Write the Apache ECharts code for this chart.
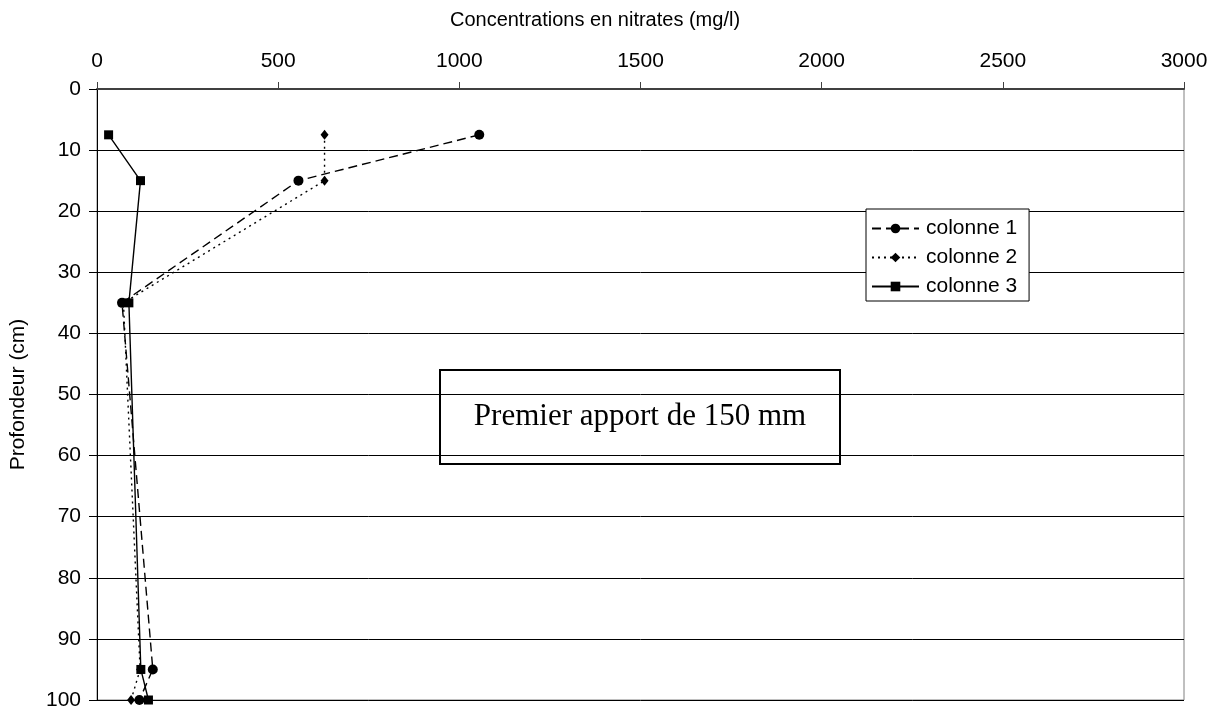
<!DOCTYPE html>
<html>
<head>
<meta charset="utf-8">
<script src="https://cdn.jsdelivr.net/npm/echarts@6/dist/echarts.min.js"></script>
<style>
  html, body { margin: 0; padding: 0; background: #fff; }
  #chart { width: 1220px; height: 711px; }
</style>
</head>
<body>
<div id="chart"></div>
<script>
// Nitrate concentration profiles (mg/l) versus depth (cm) for three soil columns
const depths = [7.5, 15, 35, 95, 100];
const colonne1 = [1055, 556, 69, 154, 117];
const colonne2 = [628, 628, 73, 119, 94];
const colonne3 = [32, 120, 88, 121, 142];
const seriesNames = ['colonne 1', 'colonne 2', 'colonne 3'];
const xTitle = 'Concentrations en nitrates (mg/l)';
const yTitle = 'Profondeur (cm)';
const boxText = 'Premier apport de 150 mm';

const pairs = vals => vals.map((v, i) => [v, depths[i]]);
const FONT = '"Liberation Sans", Arial, sans-serif';

const chart = echarts.init(document.getElementById('chart'), null, { renderer: 'canvas' });

const seriesStyle = [
  { data: colonne1, symbol: 'circle', size: 10, type: [9, 5] },
  { data: colonne2, symbol: 'diamond', size: [8, 10], type: [2, 4] },
  { data: colonne3, symbol: 'rect', size: 9, type: 'solid' }
];

chart.setOption({
  animation: false,
  backgroundColor: '#ffffff',
  title: {
    text: xTitle,
    left: 595, top: 10,
    textAlign: 'center',
    padding: 0,
    textStyle: { fontFamily: FONT, fontSize: 20, fontWeight: 'normal', color: '#000' }
  },
  grid: {
    left: 97, right: 36, top: 89, bottom: 11,
    containLabel: false,
    outerBoundsMode: 'none',
    show: true, borderColor: '#808080', borderWidth: 1
  },
  xAxis: {
    type: 'value', position: 'top',
    min: 0, max: 3000, interval: 500,
    axisLine: { show: true, lineStyle: { color: '#404040', width: 2 } },
    axisTick: { show: true, inside: false, length: 7, lineStyle: { color: '#404040' } },
    axisLabel: { fontFamily: FONT, fontSize: 21, color: '#000', margin: 17, formatter: v => String(v) },
    splitLine: { show: false }
  },
  yAxis: {
    type: 'value', inverse: true,
    min: 0, max: 100, interval: 10,
    name: yTitle, nameLocation: 'middle', nameGap: 68, nameRotate: 90,
    nameTextStyle: { fontFamily: FONT, fontSize: 21, color: '#000' },
    axisLine: { show: true, onZero: false, lineStyle: { color: '#000', width: 1 } },
    axisTick: { show: true, length: 8, lineStyle: { color: '#000' } },
    axisLabel: { fontFamily: FONT, fontSize: 21, color: '#000', margin: 16, formatter: v => String(v) },
    splitLine: { show: true, lineStyle: { color: '#000', width: 1 } }
  },
  legend: {
    data: seriesNames,
    orient: 'vertical',
    left: 866, top: 209,
    backgroundColor: '#fff',
    borderColor: '#000', borderWidth: 1, borderRadius: 0,
    padding: [9, 12, 4, 5],
    itemWidth: 47, itemHeight: 12, itemGap: 8,
    textStyle: { fontFamily: FONT, fontSize: 21, color: '#000', padding: [0, 0, 0, 2] }
  },
  series: seriesStyle.map((s, i) => ({
    name: seriesNames[i],
    type: 'line',
    data: pairs(s.data),
    symbol: s.symbol,
    symbolSize: s.size,
    showSymbol: true,
    z: 3 + i,
    itemStyle: { color: '#000' },
    lineStyle: { color: '#000', width: 1.4, type: s.type }
  })),
  graphic: [{
    type: 'group',
    left: 439, top: 369,
    z: 100,
    children: [
      {
        type: 'rect',
        shape: { x: 0, y: 0, width: 400, height: 94 },
        style: { fill: '#fff', stroke: '#000', lineWidth: 2 }
      },
      {
        type: 'text',
        x: 200, y: 47,
        style: {
          text: boxText,
          fontFamily: '"Liberation Serif", "Times New Roman", serif',
          fontSize: 31, fill: '#000',
          align: 'center', verticalAlign: 'middle'
        }
      }
    ]
  }]
});
</script>
</body>
</html>
